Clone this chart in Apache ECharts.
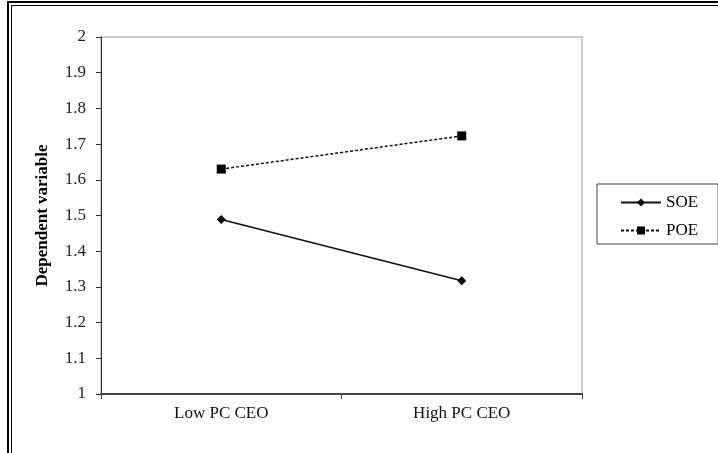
<!DOCTYPE html>
<html><head><meta charset="utf-8">
<script src="https://cdn.jsdelivr.net/npm/echarts@6/dist/echarts.min.js"></script>
<style>html,body{margin:0;padding:0;background:#fff}#c{width:718px;height:453px}</style>
</head><body><div id="c"></div>
<script>
var categories = ['Low PC CEO', 'High PC CEO'];
var soeValues = [1.489, 1.317];
var poeValues = [1.630, 1.723];
var seriesNames = ['SOE', 'POE'];
var yAxisName = 'Dependent variable';

var chart = echarts.init(document.getElementById('c'), null, {renderer: 'canvas'});
var serif = '"Liberation Serif", "DejaVu Serif", serif';
chart.setOption({
  animation: false,
  backgroundColor: '#fff',
  graphic: [
    {type: 'rect', shape: {x: 8, y: 2, width: 720, height: 470}, style: {fill: 'none', stroke: '#000', lineWidth: 2}},
    {type: 'rect', shape: {x: 11.5, y: 5.5, width: 720, height: 470}, style: {fill: 'none', stroke: '#000', lineWidth: 1}}
  ],
  grid: {left: 101, top: 37, width: 481, height: 357, show: true, borderColor: '#9a9a9a', borderWidth: 1, backgroundColor: 'transparent'},
  legend: {
    orient: 'vertical', left: 597, top: 184,
    padding: [10, 20, 5, 23],
    itemGap: 11,
    itemWidth: 40, itemHeight: 10, itemTextGap: 5,
    borderColor: '#444', borderWidth: 1,
    textStyle: {fontFamily: serif, fontSize: 17, color: '#000'},
    data: seriesNames
  },
  xAxis: {
    type: 'category', data: categories, boundaryGap: true,
    axisLine: {lineStyle: {color: '#444', width: 2}},
    axisTick: {show: true, length: 5, lineStyle: {color: '#444'}},
    axisLabel: {fontFamily: serif, fontSize: 17, color: '#111', margin: 11},
    splitLine: {show: false}
  },
  yAxis: {
    type: 'value', min: 1, max: 2, interval: 0.1,
    name: yAxisName, nameLocation: 'middle', nameGap: 50, nameRotate: 90,
    nameTextStyle: {fontFamily: serif, fontSize: 17, fontWeight: 'bold', color: '#000'},
    axisLine: {show: true, lineStyle: {color: '#333', width: 1}},
    axisTick: {show: true, length: 5, lineStyle: {color: '#333'}},
    axisLabel: {fontFamily: serif, fontSize: 17, color: '#222', margin: 15,
      formatter: function (v) { return String(Math.round(v * 10) / 10); }},
    splitLine: {show: false}
  },
  series: [
    {name: seriesNames[0], type: 'line', data: soeValues, symbol: 'diamond', symbolSize: 9,
      itemStyle: {color: '#000'}, lineStyle: {color: '#111', width: 1.5, type: 'solid'}},
    {name: seriesNames[1], type: 'line', data: poeValues, symbol: 'rect', symbolSize: 9,
      itemStyle: {color: '#000'}, lineStyle: {color: '#111', width: 1.5, type: [3, 2]}}
  ]
});
</script></body></html>
